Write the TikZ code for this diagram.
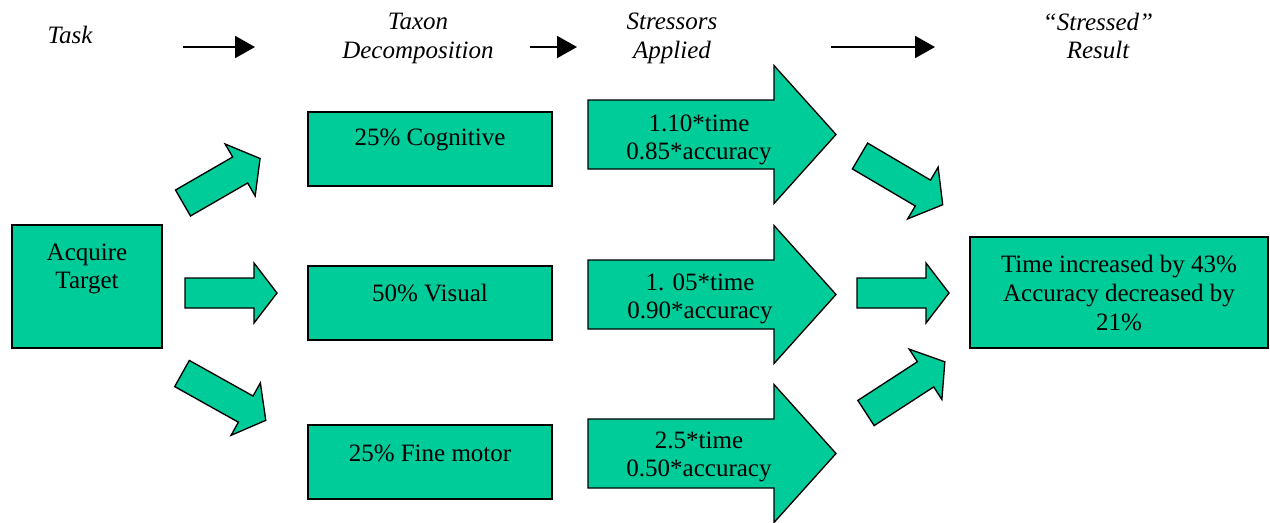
\documentclass[tikz,border=0pt]{standalone}
\usepackage{fontspec}
\setmainfont{Liberation Serif}
\usetikzlibrary{arrows.meta}
\definecolor{sea}{RGB}{0,204,153}
% #1 x, #2 y (tail centre), #3 angle, #4 length, #5 shaft half width, #6 head half width, #7 head length
\newcommand{\blockarrow}[7]{%
  \begin{scope}[shift={(#1,#2)}, rotate=#3]
    \draw[greenshape] (0,-#5) -- ({#4-#7},-#5) -- ({#4-#7},-#6) -- (#4,0)
      -- ({#4-#7},#6) -- ({#4-#7},#5) -- (0,#5) -- cycle;
  \end{scope}}
\begin{document}
\begin{tikzpicture}[x=0.75pt,y=-0.75pt,
  every node/.style={font=\fontsize{18.75}{21.5}\selectfont, align=center, inner sep=0pt},
  box/.style={draw=black, line width=1.3pt, fill=sea},
  greenshape/.style={draw=black, line width=1pt, fill=sea, line join=miter},
  header/.style={font=\fontsize{18.75}{21.5}\selectfont\itshape},
  hdarrow/.style={line width=1.5pt, -{Triangle[length=15pt,width=16.5pt]}}]
\useasboundingbox (0,0) rectangle (1270,522);

% headers
\node[header] (task) at (70,35) {Task};
\node[header] (taxon) at (418,38.5) {Taxon\\Decomposition};
\node[header] (stress) at (672,38.5) {Stressors\\Applied};
\node[header] (result) at (1098,36) {“Stressed”\\Result};
\coordinate (h1s) at (183,47); \coordinate (h1e) at (255,47);
\coordinate (h2s) at (530,47); \coordinate (h2e) at (577,47);
\coordinate (h3s) at (831,47); \coordinate (h3e) at (935,47);
\draw[hdarrow] (h1s) -- (h1e);
\draw[hdarrow] (h2s) -- (h2e);
\draw[hdarrow] (h3s) -- (h3e);

% boxes
\node[box, minimum width=112.5pt, minimum height=92.25pt] (acq) at (87,286.5) {};
\node (acqt) at (87,269) {Acquire\\Target};
\node[box, minimum width=183pt, minimum height=55.5pt] (cog) at (430,149) {};
\node (cogt) at (430,140) {25\% Cognitive};
\node[box, minimum width=183pt, minimum height=55.5pt] (vis) at (430,303) {};
\node (vist) at (430,293) {50\% Visual};
\node[box, minimum width=183pt, minimum height=55.5pt] (fine) at (430,462) {};
\node (finet) at (430,453) {25\% Fine motor};
\node[box, minimum width=223.5pt, minimum height=83.25pt] (res) at (1119,292.5) {};
\node (rest) at (1119,293) {Time increased by 43\%\\Accuracy decreased by\\21\%};

% small block arrows (left)
\blockarrow{183}{203}{30}{89}{15}{30}{23}
\blockarrow{185}{293}{0}{92}{15}{30}{23}
\blockarrow{182}{373.5}{-29.2}{96}{15}{30}{23}
% small block arrows (right)
\blockarrow{860}{156}{-30.5}{96}{15}{30}{23}
\blockarrow{857}{293}{0}{92}{15}{30}{23}
\blockarrow{866}{413}{33}{94}{15}{30}{23}

% big block arrows with stressors
\blockarrow{588}{134.5}{0}{248}{34.5}{69}{62}
\node (s1) at (699,140) {1.10*time\\0.85*accuracy};
\blockarrow{588}{294.5}{0}{248}{34.5}{69}{62}
\node (s2) at (700,299) {1. 05*time\\0.90*accuracy};
\blockarrow{588}{453.5}{0}{248}{34.5}{69}{62}
\node (s3) at (699,457) {2.5*time\\0.50*accuracy};
\end{tikzpicture}
\end{document}
